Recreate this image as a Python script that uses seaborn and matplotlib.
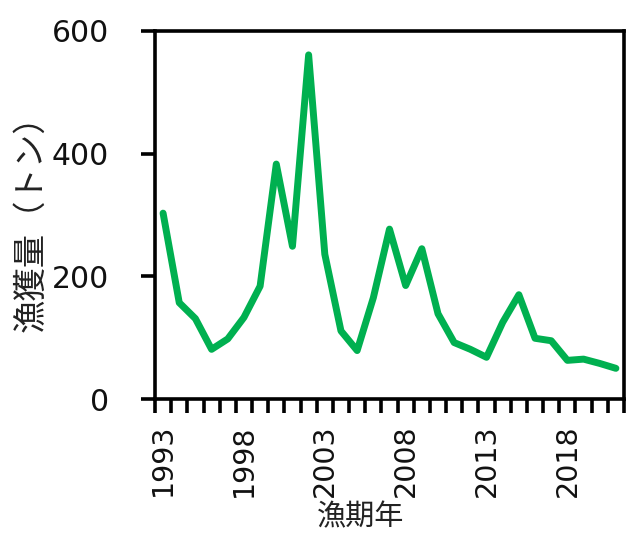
import numpy as np
import pandas as pd
import seaborn as sns
import matplotlib.pyplot as plt

# fishing year and catch (t)
years = list(range(1993, 2022))
catch = [303, 157, 131, 81, 98, 133, 184, 383, 249, 561, 236, 111, 79, 165, 277,
         185, 245, 139, 92, 81, 68, 125, 170, 99, 95, 63, 65, 58, 50]
label_years = years[::5]
y_ticks = [0, 200, 400, 600]

sns.set_style("white")
plt.rcParams['font.family'] = ['DejaVu Sans', 'Noto Sans CJK JP']

df = pd.DataFrame({'year': years, 'catch': catch})

fig, ax = plt.subplots(figsize=(6.27, 5.34), dpi=100)
fig.subplots_adjust(left=0.2472, right=0.9952, top=0.942, bottom=0.2528)

sns.lineplot(data=df, x='year', y='catch', color='#00B050', lw=5, ax=ax,
             solid_capstyle='round', solid_joinstyle='round')

ax.set_xlim(1992.5, 2021.5)
ax.set_ylim(0, 600)
ax.set_yticks(y_ticks)
ax.set_xticks(label_years)
ax.set_xticklabels([str(y) for y in label_years])
ax.set_xticks(np.arange(years[0] - 0.5, years[-1] + 1, 1), minor=True)

ax.tick_params(axis='x', which='major', bottom=True, length=0, labelrotation=90,
               pad=18, labelsize=20.5, labelcolor='#111111')
ax.tick_params(axis='x', which='minor', bottom=True, length=10, width=2.6,
               color='black', direction='out')
ax.tick_params(axis='y', left=True, length=10, width=2.6, color='black',
               direction='out', pad=23, labelsize=21.5, labelcolor='#111111')

for s in ax.spines.values():
    s.set_linewidth(2.6)
    s.set_color('black')

ax.set_ylabel('漁獲量（トン）', fontsize=24, color='#222222',
              family=['Noto Sans CJK JP'])
ax.set_xlabel('漁期年', fontsize=21, color='#222222', family=['Noto Sans CJK JP'])
ax.yaxis.set_label_coords(-0.228, 0.5)
ax.xaxis.set_label_coords(0.439, -0.28)

fig.savefig('out.png', dpi=100)
